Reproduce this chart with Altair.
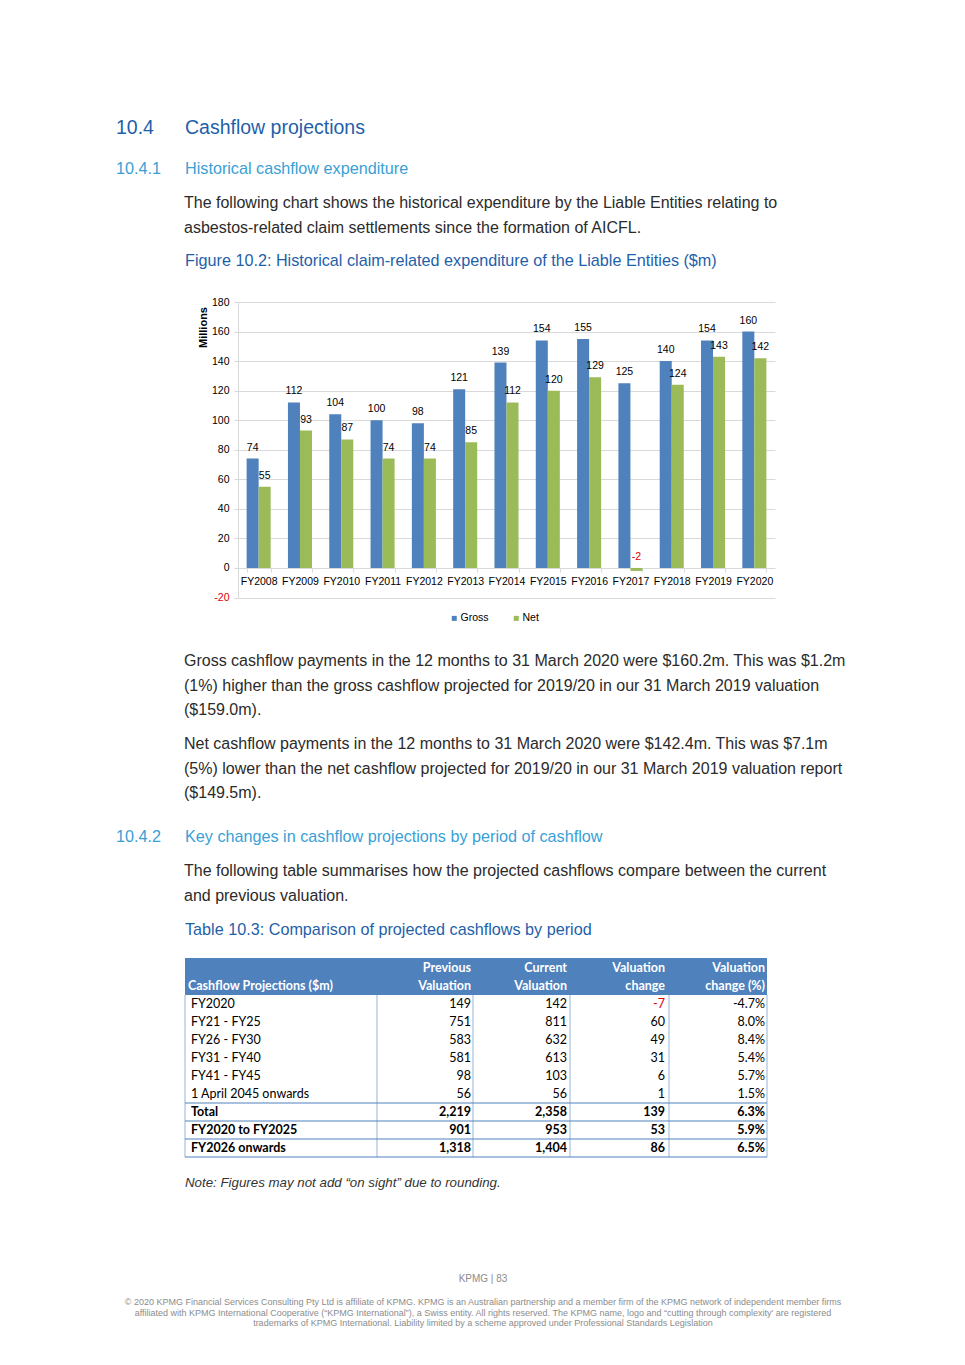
import altair as alt
import pandas as pd

# ---------------- chart data ----------------
years = ["FY2008", "FY2009", "FY2010", "FY2011", "FY2012", "FY2013", "FY2014",
         "FY2015", "FY2016", "FY2017", "FY2018", "FY2019", "FY2020"]
gross = [74, 112, 104, 100, 98, 121, 139, 154, 155, 125, 140, 154, 160]
net = [55, 93, 87, 74, 74, 85, 112, 120, 129, -2, 124, 143, 142]
series_names = ["Gross", "Net"]
series_colors = ["#4F81BD", "#9BBB59"]
y_tick_values = [-20, 0, 20, 40, 60, 80, 100, 120, 140, 160, 180]

# ---------------- table data ----------------
periods = ["FY2020", "FY21 - FY25", "FY26 - FY30", "FY31 - FY40", "FY41 - FY45",
           "1 April 2045 onwards", "Total", "FY2020 to FY2025", "FY2026 onwards"]
prev_val = [149, 751, 583, 581, 98, 56, 2219, 901, 1318]
curr_val = [142, 811, 632, 613, 103, 56, 2358, 953, 1404]
val_change = [-7, 60, 49, 31, 6, 1, 139, 53, 86]
pct_change = [-4.7, 8.0, 8.4, 5.4, 5.7, 1.5, 6.3, 5.9, 6.5]

# ---------------- layout ----------------
OFF = 8
W, H = 949, 1349


def px(v):
    return v - OFF


CHART_FONT = "Liberation Sans"
BODY_FONT = "Liberation Sans"
TABLE_FONT = "Lato"
DARK_BLUE = "#1F5FAA"
LIGHT_BLUE = "#3A9FD5"
BODY_COLOR = "#2B2B2B"
GRID = "#D9D9D9"
CF = 10.5  # chart font size

one = alt.Data(values=[{"k": 0}])


def text(s, x, y, size, color=BODY_COLOR, font=BODY_FONT, weight="normal",
         align="left", style="normal", lh=None, baseline="alphabetic"):
    kw = dict(text=s, fontSize=size, color=color, font=font, fontWeight=weight,
              align=align, fontStyle=style, baseline=baseline)
    if lh is not None:
        kw["lineHeight"] = lh
    return alt.Chart(one).mark_text(**kw).encode(x=alt.value(px(x)), y=alt.value(px(y)))


def hline(y, x1, x2, color, w=1.0):
    return alt.Chart(one).mark_rule(color=color, strokeWidth=w).encode(
        x=alt.value(px(x1)), x2=alt.value(px(x2)), y=alt.value(px(y)))


def vline(x, y1, y2, color, w=1.0):
    return alt.Chart(one).mark_rule(color=color, strokeWidth=w).encode(
        x=alt.value(px(x)), y=alt.value(px(y1)), y2=alt.value(px(y2)))


# ---------------- bar chart ----------------
bars_df = pd.DataFrame({
    "year": years + years,
    "series": [series_names[0]] * len(years) + [series_names[1]] * len(years),
    "value": gross + net,
})

X_RANGE = [px(238), px(775)]
Y_RANGE = [px(597.5), px(302)]

x_scale = alt.Scale(domain=years, range=X_RANGE, paddingInner=0.418, paddingOuter=0.209)
y_scale = alt.Scale(domain=[-20, 180], range=Y_RANGE, nice=False)
off_scale = alt.Scale(domain=series_names, paddingInner=0, paddingOuter=0)

bars = alt.Chart(bars_df).mark_bar().encode(
    x=alt.X("year:N", scale=x_scale, sort=years, title=None,
            axis=alt.Axis(offset=-(H - px(568)), domain=False, grid=False,
                          tickBand="extent", tickSize=4, tickColor=GRID,
                          labelFont=CHART_FONT, labelFontSize=CF, labelColor="#000000",
                          labelPadding=4, labelAngle=0)),
    xOffset=alt.XOffset("series:N", scale=off_scale, sort=series_names),
    y=alt.Y("value:Q", scale=y_scale, stack=None, title="Millions",
            axis=alt.Axis(values=y_tick_values, offset=-px(238),
                          domainColor=GRID, tickColor=GRID, tickSize=4,
                          gridColor=GRID, grid=True,
                          labelFont=CHART_FONT, labelFontSize=CF, labelPadding=5,
                          labelExpr="replace(datum.label, '\u2212', '-')",
                          labelColor={"condition": {"test": "datum.value < 0", "value": "#E00000"},
                                      "value": "#000000"},
                          titleFont=CHART_FONT, titleFontSize=11, titleFontWeight="bold",
                          titleColor="#000000", titleAngle=270, titleX=-35, titleY=px(327),
                          titleAlign="center", titleBaseline="middle")),
    color=alt.Color("series:N", scale=alt.Scale(domain=series_names, range=series_colors),
                    legend=alt.Legend(orient="none", legendX=px(449), legendY=px(613),
                                      direction="horizontal", title=None,
                                      symbolType="square", symbolSize=25, symbolStrokeWidth=0,
                                      labelFont=CHART_FONT, labelFontSize=CF,
                                      labelColor="#000000", labelOffset=1,
                                      columnPadding=22, padding=0)),
)

labels = alt.Chart(bars_df).transform_calculate(
    lp="max(datum.value, 0)", lbl="datum.value + ''"
).mark_text(baseline="bottom", dy=-6, font=CHART_FONT, fontSize=CF).encode(
    x=alt.X("year:N", scale=x_scale, sort=years, axis=None),
    xOffset=alt.XOffset("series:N", scale=off_scale, sort=series_names),
    y=alt.Y("lp:Q", scale=y_scale, axis=None),
    text=alt.Text("lbl:N"),
    color=alt.condition(alt.datum.value < 0, alt.value("#E00000"), alt.value("#000000")),
)

# ---------------- table ----------------
table_df = pd.DataFrame({
    "row": list(range(len(periods))),
    "period": periods,
    "prev": prev_val,
    "curr": curr_val,
    "chg": val_change,
    "pct": pct_change,
})
row_scale = alt.Scale(type="point", domain=list(range(len(periods))),
                      range=[px(1004), px(1148)], padding=0)

tbase = alt.Chart(table_df).transform_calculate(
    s_prev="format(datum.prev, ',')",
    s_curr="format(datum.curr, ',')",
    s_chg="replace(format(datum.chg, ','), '\u2212', '-')",
    s_pct="replace(format(datum.pct, '.1f'), '\u2212', '-') + '%'",
)

TF = 12.5


def table_col(field, x, align, bold, colored=False):
    flt = "datum.row >= 6" if bold else "datum.row < 6"
    enc = dict(
        x=alt.value(px(x)),
        y=alt.Y("row:O", scale=row_scale, axis=None),
        text=alt.Text(f"{field}:N"),
    )
    if colored:
        enc["color"] = alt.condition(alt.datum.chg < 0, alt.value("#E00000"), alt.value("#000000"))
    return tbase.transform_filter(flt).mark_text(
        font=TABLE_FONT, fontSize=TF, fontWeight="bold" if bold else "normal",
        align=align, baseline="middle", color="#000000").encode(**enc)


table_layers = []
for b in (False, True):
    table_layers += [
        table_col("period", 191, "left", b),
        table_col("s_prev", 471, "right", b),
        table_col("s_curr", 567, "right", b),
        table_col("s_chg", 665, "right", b, colored=True),
        table_col("s_pct", 765, "right", b),
    ]

HEAD = "#4F81BD"
LINE = "#4F81BD"
LIGHT_LINE = "#95B3D7"
header_rect = alt.Chart(one).mark_rect(color=HEAD).encode(
    x=alt.value(px(185)), x2=alt.value(px(767)), y=alt.value(px(958)), y2=alt.value(px(995)))

tw = dict(size=TF, color="#FFFFFF", font=TABLE_FONT, weight="bold", baseline="middle")
table_header = [
    header_rect,
    text("Cashflow Projections ($m)", 188, 986, **tw),
    text("Previous", 471, 968, align="right", **tw),
    text("Valuation", 471, 986, align="right", **tw),
    text("Current", 567, 968, align="right", **tw),
    text("Valuation", 567, 986, align="right", **tw),
    text("Valuation", 665, 968, align="right", **tw),
    text("change", 665, 986, align="right", **tw),
    text("Valuation", 765, 968, align="right", **tw),
    text("change (%)", 765, 986, align="right", **tw),
]

table_lines = [
    vline(185, 995, 1157, LIGHT_LINE),
    vline(767, 995, 1157, LIGHT_LINE),
    vline(377, 995, 1157, LIGHT_LINE),
    vline(473, 995, 1157, LIGHT_LINE),
    vline(570, 995, 1157, LIGHT_LINE),
    vline(669, 995, 1157, LIGHT_LINE),
    hline(1103, 185, 767, LINE, 1.2),
    hline(1121, 185, 767, LINE, 1.2),
    hline(1139, 185, 767, LINE, 1.2),
    hline(1157, 185, 767, LINE, 1.2),
]

# ---------------- page text ----------------
BF = 16
SF = 16.2
page_text = [
    text("10.4", 116, 134, 19.5, DARK_BLUE),
    text("Cashflow projections", 185, 134, 19.5, DARK_BLUE),
    text("10.4.1", 116, 174, SF, LIGHT_BLUE),
    text("Historical cashflow expenditure", 185, 174, SF, LIGHT_BLUE),
    text(["The following chart shows the historical expenditure by the Liable Entities relating to",
          "asbestos-related claim settlements since the formation of AICFL."], 184, 208, BF, lh=25),
    text("Figure 10.2: Historical claim-related expenditure of the Liable Entities ($m)", 185, 266, SF, DARK_BLUE),
    text(["Gross cashflow payments in the 12 months to 31 March 2020 were $160.2m. This was $1.2m",
          "(1%) higher than the gross cashflow projected for 2019/20 in our 31 March 2019 valuation",
          "($159.0m)."], 184, 666, BF, lh=24.5),
    text(["Net cashflow payments in the 12 months to 31 March 2020 were $142.4m. This was $7.1m",
          "(5%) lower than the net cashflow projected for 2019/20 in our 31 March 2019 valuation report",
          "($149.5m)."], 184, 749, BF, lh=24.5),
    text("10.4.2", 116, 842, SF, LIGHT_BLUE),
    text("Key changes in cashflow projections by period of cashflow", 185, 842, SF, LIGHT_BLUE),
    text(["The following table summarises how the projected cashflows compare between the current",
          "and previous valuation."], 184, 876, BF, lh=25),
    text("Table 10.3: Comparison of projected cashflows by period", 185, 935, SF, DARK_BLUE),
    text("Note: Figures may not add \u201con sight\u201d due to rounding.", 185, 1187, 13.3,
         color="#333333", style="italic"),
    text("KPMG  |  83", 483, 1282, 10, color="#8C8C8C", align="center"),
    text(["\u00a9 2020 KPMG Financial Services Consulting Pty Ltd is affiliate of KPMG. KPMG is an Australian partnership and a member firm of the KPMG network of independent member firms",
          "affiliated with KPMG International Cooperative (\u201cKPMG International\u201d), a Swiss entity. All rights reserved. The KPMG name, logo and \u201ccutting through complexity' are registered",
          "trademarks of KPMG International. Liability limited by a scheme approved under Professional Standards Legislation"],
         483, 1305, 9, color="#8C8C8C", align="center", lh=10.5),
]

layers = page_text + [bars, labels] + table_header + table_lines + table_layers

chart = alt.layer(*layers).resolve_scale(
    x="independent", y="independent"
).properties(
    width=W, height=H, padding=0, background="#FFFFFF"
).configure_view(stroke=None)

chart.save("out.html", embed_options={"renderer": "svg", "actions": False})
